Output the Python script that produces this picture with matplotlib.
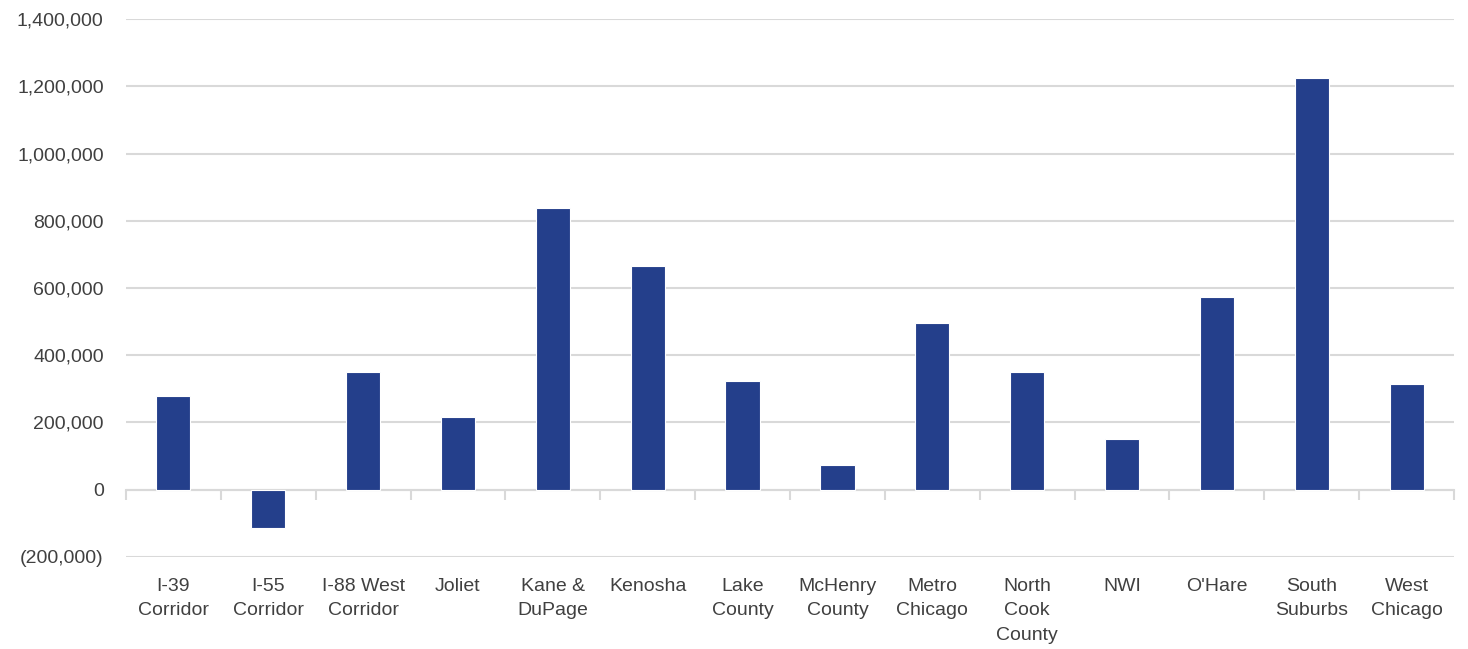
import matplotlib
matplotlib.use("Agg")
import matplotlib.pyplot as plt
from matplotlib.ticker import FuncFormatter
import numpy as np

regions = [
    "I-39\nCorridor", "I-55\nCorridor", "I-88 West\nCorridor", "Joliet",
    "Kane &\nDuPage", "Kenosha", "Lake\nCounty", "McHenry\nCounty",
    "Metro\nChicago", "North\nCook\nCounty", "NWI", "O'Hare",
    "South\nSuburbs", "West\nChicago",
]
values = [
    279000, -113000, 349000, 215000,
    837000, 665000, 322000, 73000,
    497000, 349000, 150000, 572000,
    1224000, 315000,
]
y_ticks = [-200000, 0, 200000, 400000, 600000, 800000, 1000000, 1200000, 1400000]

BAR = "#243F8B"
GRID = "#D9D9D9"
TEXT = "#404040"

plt.rcParams["font.family"] = ["Liberation Sans", "DejaVu Sans"]


def fmt(v, _pos):
    if v < 0:
        return f"({abs(v):,.0f})"
    return f"{v:,.0f}"


fig = plt.figure(figsize=(14.68, 6.49), dpi=100)
ax = fig.add_axes([0.0858, 0.1418, 0.9047, 0.8289])

x = np.arange(len(regions))
ax.bar(x, values, width=0.36, color=BAR, edgecolor="white", linewidth=0.8, zorder=3)

ax.set_xlim(-0.5, len(regions) - 0.5)
ax.set_ylim(y_ticks[0], y_ticks[-1])
ax.set_yticks(y_ticks)
ax.yaxis.set_major_formatter(FuncFormatter(fmt))
ax.grid(axis="y", color=GRID, linewidth=1.5, zorder=0)
ax.set_axisbelow(True)

ax.set_xticks(x)
ax.set_xticklabels(regions, linespacing=1.58)
ax.tick_params(axis="x", length=0, pad=15, labelsize=14, labelcolor=TEXT)
ax.tick_params(axis="y", length=0, pad=16, labelsize=14, labelcolor=TEXT)
for s in ax.spines.values():
    s.set_visible(False)

# category axis drawn along the zero line, with ticks between categories
zero_frac = (0 - y_ticks[0]) / (y_ticks[-1] - y_ticks[0])
sec = ax.secondary_xaxis(zero_frac)
sec.set_xticks(np.arange(len(regions) + 1) - 0.5)
sec.set_xticklabels([])
sec.tick_params(axis="x", direction="out", length=7, width=1.5, color=GRID)
sec.spines["bottom"].set_color(GRID)
sec.spines["bottom"].set_linewidth(1.5)

fig.savefig("out.png", dpi=100)
